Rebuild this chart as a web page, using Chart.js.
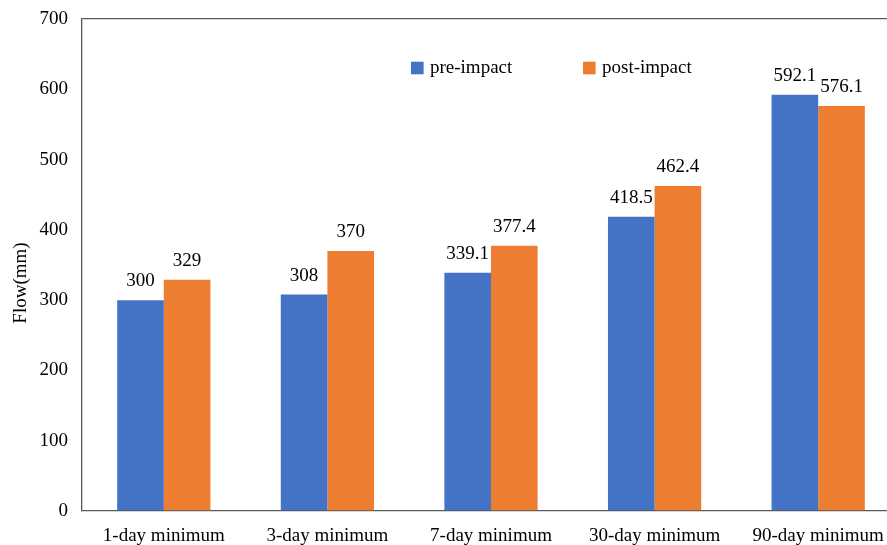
<!DOCTYPE html>
<html>
<head>
<meta charset="utf-8">
<script src="https://cdn.jsdelivr.net/npm/chart.js@4"></script>
<style>
  html, body { margin: 0; padding: 0; background: #fff; overflow: hidden; }
  #wrap { width: 901px; height: 545px; position: relative; }
</style>
</head>
<body>
<div id="wrap"><canvas id="flowChart"></canvas></div>
<script>
// Minimum-flow statistics
const categories = ['1-day minimum', '3-day minimum', '7-day minimum', '30-day minimum', '90-day minimum'];
const preImpact = [300, 308, 339.1, 418.5, 592.1];
const postImpact = [329, 370, 377.4, 462.4, 576.1];
const yTicks = [0, 100, 200, 300, 400, 500, 600, 700];

const FONT = 'Liberation Serif, Times New Roman, serif';
const AXIS = '#595959';

// value printed above each bar
const barLabels = {
  id: 'barLabels',
  afterDatasetsDraw(chart) {
    const ctx = chart.ctx;
    ctx.save();
    ctx.font = '19px ' + FONT;
    ctx.fillStyle = '#000';
    ctx.textAlign = 'center';
    ctx.textBaseline = 'middle';
    chart.data.datasets.forEach((ds, i) => {
      chart.getDatasetMeta(i).data.forEach((bar, j) => {
        ctx.fillText(String(ds.data[j]), bar.x, bar.y - 19);
      });
    });
    ctx.restore();
  }
};

// legend sits inside the plot, top centre-right
const innerLegend = {
  id: 'innerLegend',
  afterDraw(chart, args, opts) {
    const ctx = chart.ctx;
    ctx.save();
    ctx.font = '19px ' + FONT;
    ctx.textBaseline = 'middle';
    chart.data.datasets.forEach((ds, i) => {
      const x = opts.xs[i];
      ctx.fillStyle = ds.backgroundColor;
      ctx.fillRect(x, opts.y - 6.3, 12.6, 12.6);
      ctx.fillStyle = '#000';
      ctx.fillText(ds.label, x + 19, opts.y);
    });
    ctx.restore();
  }
};

// rotated y-axis title, sitting a little below the axis middle
const yTitle = {
  id: 'yTitle',
  afterDraw(chart, args, opts) {
    const ctx = chart.ctx;
    ctx.save();
    ctx.translate(opts.x, opts.y);
    ctx.rotate(-Math.PI / 2);
    ctx.font = '19px ' + FONT;
    ctx.fillStyle = '#000';
    ctx.textAlign = 'center';
    ctx.textBaseline = 'middle';
    ctx.fillText(opts.text, 0, 0);
    ctx.restore();
  }
};

new Chart(document.getElementById('flowChart'), {
  type: 'bar',
  data: {
    labels: categories,
    datasets: [
      { label: 'pre-impact', data: preImpact, backgroundColor: '#4472C4' },
      { label: 'post-impact', data: postImpact, backgroundColor: '#ED7D31' }
    ]
  },
  options: {
    responsive: true,
    maintainAspectRatio: false,
    animation: false,
    categoryPercentage: 0.57,
    barPercentage: 1.0,
    layout: { padding: { top: 19, right: 1, left: 0, bottom: 0 } },
    plugins: {
      legend: { display: false },
      tooltip: { enabled: false },
      innerLegend: { xs: [411, 583], y: 68 },
      yTitle: { text: 'Flow(mm)', x: 21, y: 283 }
    },
    scales: {
      x: {
        grid: { display: false, drawTicks: false },
        border: { display: true, color: AXIS, width: 1.3 },
        ticks: { color: '#000', font: { family: FONT, size: 19 }, padding: 14, maxRotation: 0 },
        afterFit(scale) { scale.height = 34; }
      },
      y: {
        min: 0,
        max: 700,
        afterBuildTicks(scale) { scale.ticks = yTicks.map(v => ({ value: v })); },
        grid: {
          drawTicks: false,
          color: c => (c.tick && c.tick.value === 700 ? AXIS : 'transparent'),
          lineWidth: 1.3
        },
        border: { display: true, color: AXIS, width: 1.3 },
        ticks: { color: '#000', font: { family: FONT, size: 19 }, padding: 14 },
        afterFit(scale) {
          scale.width = 82;
          scale.paddingTop = 0;
          scale.paddingBottom = 0;
        }
      }
    }
  },
  plugins: [barLabels, innerLegend, yTitle]
});
</script>
</body>
</html>
